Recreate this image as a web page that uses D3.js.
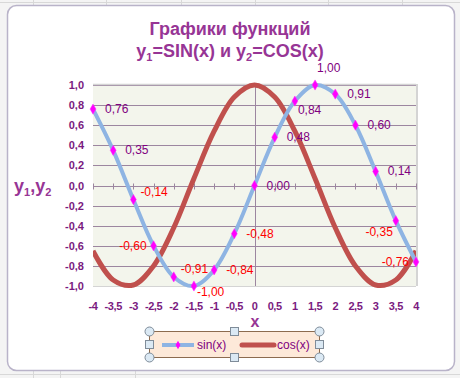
<!DOCTYPE html>
<html><head><meta charset="utf-8">
<script src="https://cdn.jsdelivr.net/npm/d3@7"></script>
<style>
body{margin:0;background:#f0f0f0;}
svg{display:block;font-family:"Liberation Sans",Arial,sans-serif;}
</style></head>
<body><svg id="c" width="460" height="378"></svg>
<script>
const xValues = [-4,-3.5,-3,-2.5,-2,-1.5,-1,-0.5,0,0.5,1,1.5,2,2.5,3,3.5,4];
const sinValues = [0.76,0.35,-0.14,-0.60,-0.91,-1.00,-0.84,-0.48,0.00,0.48,0.84,1.00,0.91,0.60,0.14,-0.35,-0.76];
const cosValues = [-0.65,-0.94,-0.99,-0.80,-0.42,0.07,0.54,0.88,1.00,0.88,0.54,0.07,-0.42,-0.80,-0.99,-0.94,-0.65];
const xTicks = [-4,-3.5,-3,-2.5,-2,-1.5,-1,-0.5,0,0.5,1,1.5,2,2.5,3,3.5,4];
const yTicks = [-1,-0.8,-0.6,-0.4,-0.2,0,0.2,0.4,0.6,0.8,1];
const labelPlacement = ["r","r","ru","l","ru","rb","r","r","r","r","rd","u","r","r","r","ld","l"];
const seriesNames = ["sin(x)","cos(x)"];

const svg = d3.select("#c");
const fmt = v => v.toFixed(2).replace(".", ",");
const fmtTick = v => String(v).replace(".", ",");

// sheet background grid
const bg = svg.append("g");
bg.append("rect").attr("width",460).attr("height",378).attr("fill","#f4f4f4");
bg.append("line").attr("x1",0).attr("x2",460).attr("y1",2.5).attr("y2",2.5).attr("stroke","#d8d8d8");
bg.append("line").attr("x1",0).attr("x2",460).attr("y1",374.5).attr("y2",374.5).attr("stroke","#d8d8d8");
[33,106,181,255,328,402].forEach(x=>bg.append("line").attr("x1",x+0.5).attr("x2",x+0.5).attr("y1",0).attr("y2",5).attr("stroke","#d8d8d8"));
[33,60,135].forEach(x=>bg.append("line").attr("x1",x+0.5).attr("x2",x+0.5).attr("y1",370).attr("y2",378).attr("stroke","#d8d8d8"));

// chart area frame
svg.append("rect").attr("x",7.5).attr("y",5.5).attr("width",447).attr("height",365)
  .attr("rx",9).attr("fill","#ffffff").attr("stroke","#b9b3c9").attr("stroke-width",1.5);

const L=93, R=416, T=85, B=286;
const x = d3.scaleLinear().domain([-4,4]).range([L,R]);
const y = d3.scaleLinear().domain([-1,1]).range([B,T]);

// plot area
svg.append("rect").attr("x",L).attr("y",T).attr("width",R-L).attr("height",B-T).attr("fill","#f3f5ec");
const grid = svg.append("g");
yTicks.forEach(t=>{
  if (t===-1) return;
  grid.append("line").attr("x1",L).attr("x2",R).attr("y1",Math.round(y(t))+0.5).attr("y2",Math.round(y(t))+0.5)
    .attr("stroke","#9c86a0").attr("stroke-width",1);
});
svg.append("line").attr("x1",L).attr("x2",R).attr("y1",T-0.5).attr("y2",T-0.5).attr("stroke","#d4d4d4").attr("stroke-width",1.5);
svg.append("line").attr("x1",R+1).attr("x2",R+1).attr("y1",T-1).attr("y2",B).attr("stroke","#d4d4d4").attr("stroke-width",2);
svg.append("line").attr("x1",L).attr("x2",R).attr("y1",B+0.5).attr("y2",B+0.5).attr("stroke","#d4d4d4").attr("stroke-width",1);
// value axis at x=0
svg.append("line").attr("x1",Math.round(x(0))+0.5).attr("x2",Math.round(x(0))+0.5).attr("y1",T).attr("y2",B)
  .attr("stroke","#9c86a0");
// x axis ticks on y=0
const y0 = Math.round(y(0))+0.5;
xTicks.forEach(t=>{
  svg.append("line").attr("x1",Math.round(x(t))+0.5).attr("x2",Math.round(x(t))+0.5).attr("y1",y0-3).attr("y2",y0+3)
    .attr("stroke","#9c86a0");
});

const tickColor="#7a1a80";
// y tick labels
svg.append("g").selectAll("text").data(yTicks).join("text")
  .attr("x",84).attr("y",d=>y(d)+4).attr("text-anchor","end")
  .attr("font-size",11).attr("font-weight","bold").attr("fill",tickColor)
  .text(d=>d.toFixed(1).replace(".",","));
// x tick labels
svg.append("g").selectAll("text").data(xTicks).join("text")
  .attr("x",d=>x(d)).attr("y",310).attr("text-anchor","middle")
  .attr("font-size",11).attr("font-weight","bold").attr("letter-spacing",-0.4).attr("fill",tickColor)
  .text(fmtTick);

// titles
const titleColor="#973595";
svg.append("text").attr("x",230).attr("y",35).attr("text-anchor","middle")
  .attr("font-size",18).attr("font-weight","bold").attr("fill",titleColor).text("Графики функций");
const t2 = svg.append("text").attr("x",230).attr("y",57).attr("text-anchor","middle")
  .attr("font-size",18).attr("font-weight","bold").attr("fill",titleColor);
t2.append("tspan").text("y");
t2.append("tspan").attr("font-size",11).attr("dy",4).text("1");
t2.append("tspan").attr("dy",-4).text("=SIN(x) и y");
t2.append("tspan").attr("font-size",11).attr("dy",4).text("2");
t2.append("tspan").attr("dy",-4).text("=COS(x)");

const yt = svg.append("text").attr("x",14).attr("y",192)
  .attr("font-size",18).attr("font-weight","bold").attr("fill",titleColor);
yt.append("tspan").text("y");
yt.append("tspan").attr("font-size",11).attr("dy",4).text("1");
yt.append("tspan").attr("dy",-4).text(",y");
yt.append("tspan").attr("font-size",11).attr("dy",4).text("2");

svg.append("text").attr("x",255).attr("y",327).attr("text-anchor","middle")
  .attr("font-size",16).attr("font-weight","bold").attr("fill",titleColor).text("x");

// lines
const line = d3.line().x(d=>x(d[0])).y(d=>y(d[1])).curve(d3.curveCatmullRom.alpha(0.5));
const cosData = xValues.map((v,i)=>[v,cosValues[i]]);
const sinData = xValues.map((v,i)=>[v,sinValues[i]]);
svg.append("clipPath").attr("id","pc").append("rect").attr("x",L).attr("y",T-4).attr("width",R-L).attr("height",B-T+8);
svg.append("path").attr("d",line(cosData)).attr("fill","none").attr("stroke","#c0504d").attr("stroke-width",5)
  .attr("clip-path","url(#pc)");
svg.append("path").attr("d",line(sinData)).attr("fill","none").attr("stroke","#8eb4e3").attr("stroke-width",4);

// markers
const diamond = d3.symbol().type(d3.symbolDiamond).size(30);
svg.append("g").selectAll("path").data(sinData).join("path")
  .attr("transform",d=>`translate(${x(d[0])},${y(d[1])})`)
  .attr("d",diamond).attr("fill","#ff00ff").attr("stroke","#ff33ff").attr("stroke-width",0.5);

// data labels
const off = {r:[12,4,"start"], ru:[7,-4,"start"], rd:[3,13,"start"], rb:[3,10,"start"], l:[-7,4,"end"], ld:[-3,15,"end"], u:[2,-13,"start"]};
svg.append("g").selectAll("text").data(sinData).join("text")
  .attr("x",(d,i)=>x(d[0])+off[labelPlacement[i]][0])
  .attr("y",(d,i)=>y(d[1])+off[labelPlacement[i]][1])
  .attr("text-anchor",(d,i)=>off[labelPlacement[i]][2])
  .attr("font-size",12).attr("fill",d=>d[1]<0?"#ff0000":"#800080")
  .text(d=>fmt(d[1]));

// legend
const lg = svg.append("g");
lg.append("rect").attr("x",149.5).attr("y",331.5).attr("width",170).attr("height",26)
  .attr("fill","#fde9d9").attr("stroke","#8c6b4f").attr("stroke-width",1);
lg.append("line").attr("x1",162).attr("x2",194).attr("y1",345).attr("y2",345).attr("stroke","#8eb4e3").attr("stroke-width",4);
lg.append("path").attr("transform","translate(178,345)").attr("d",d3.symbol().type(d3.symbolDiamond).size(20)).attr("fill","#ff00ff");
lg.append("text").attr("x",197).attr("y",349).attr("font-size",12).attr("fill","#800080").text(seriesNames[0]);
lg.append("line").attr("x1",242).attr("x2",274).attr("y1",345).attr("y2",345).attr("stroke","#c0504d").attr("stroke-width",5).attr("stroke-linecap","round");
lg.append("text").attr("x",277).attr("y",349).attr("font-size",12).attr("fill","#800080").text(seriesNames[1]);
// selection handles
[[149.5,331.5],[319.5,331.5],[149.5,357.5],[319.5,357.5]].forEach(p=>
  lg.append("circle").attr("cx",p[0]).attr("cy",p[1]).attr("r",4.5).attr("fill","#dbe9f4").attr("stroke","#7f8c99").attr("stroke-width",1));
[[234.5,331.5],[234.5,357.5],[149.5,344.5],[319.5,344.5]].forEach(p=>
  lg.append("rect").attr("x",p[0]-4).attr("y",p[1]-4).attr("width",8).attr("height",8).attr("fill","#dbe9f4").attr("stroke","#7f8c99").attr("stroke-width",1));
</script></body></html>
